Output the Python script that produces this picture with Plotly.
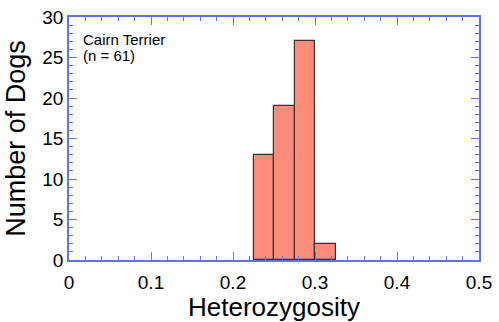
import plotly.graph_objects as go

# Histogram of per-dog heterozygosity, Cairn Terrier
bin_edges = [0.225, 0.25, 0.275, 0.30, 0.325]
counts = [13, 19, 27, 2]
label_lines = ["Cairn Terrier", "(n = 61)"]

centers = [(a + b) / 2 for a, b in zip(bin_edges[:-1], bin_edges[1:])]
widths = [b - a for a, b in zip(bin_edges[:-1], bin_edges[1:])]

axis_blue = "#5f73ec"
font_family = "Liberation Sans, Arial, Helvetica, sans-serif"

fig = go.Figure(
    go.Bar(
        x=centers,
        y=counts,
        width=widths,
        marker=dict(color="#ff8c7a", line=dict(color="#333333", width=1.2)),
    )
)

common = dict(
    showgrid=False,
    zeroline=False,
    showline=True,
    linecolor=axis_blue,
    linewidth=1.5,
    mirror="ticks",
    ticks="inside",
    tickcolor=axis_blue,
    tickwidth=1.2,
    ticklen=8,
    automargin=False,
    tickfont=dict(size=19, color="black", family=font_family),
)

fig.update_xaxes(
    range=[0, 0.5],
    dtick=0.1,
    tickformat="~g",
    ticklabelstandoff=4,
    minor=dict(ticks="inside", dtick=0.02, ticklen=4, tickcolor=axis_blue, tickwidth=1),
    title=dict(text="Heterozygosity", font=dict(size=26, color="black", family=font_family), standoff=6),
    **common,
)
fig.update_yaxes(
    range=[0, 30],
    dtick=5,
    minor=dict(ticks="inside", dtick=1, ticklen=4, tickcolor=axis_blue, tickwidth=1),
    title=dict(text="Number of Dogs", font=dict(size=27, color="black", family=font_family), standoff=9),
    **common,
)

# Breed name and sample size, set as two tightly spaced lines
for text, ypos in zip(label_lines, [0.907, 0.842]):
    fig.add_annotation(
        x=0.03, y=ypos, xref="paper", yref="paper",
        text=text, showarrow=False,
        xanchor="left", yanchor="middle", align="left",
        font=dict(size=15, color="black", family=font_family),
    )

fig.update_layout(
    width=499,
    height=322,
    margin=dict(l=69, r=20, t=17, b=62, autoexpand=False),
    plot_bgcolor="white",
    paper_bgcolor="white",
    showlegend=False,
    bargap=0,
)

fig.write_html("out.html")
